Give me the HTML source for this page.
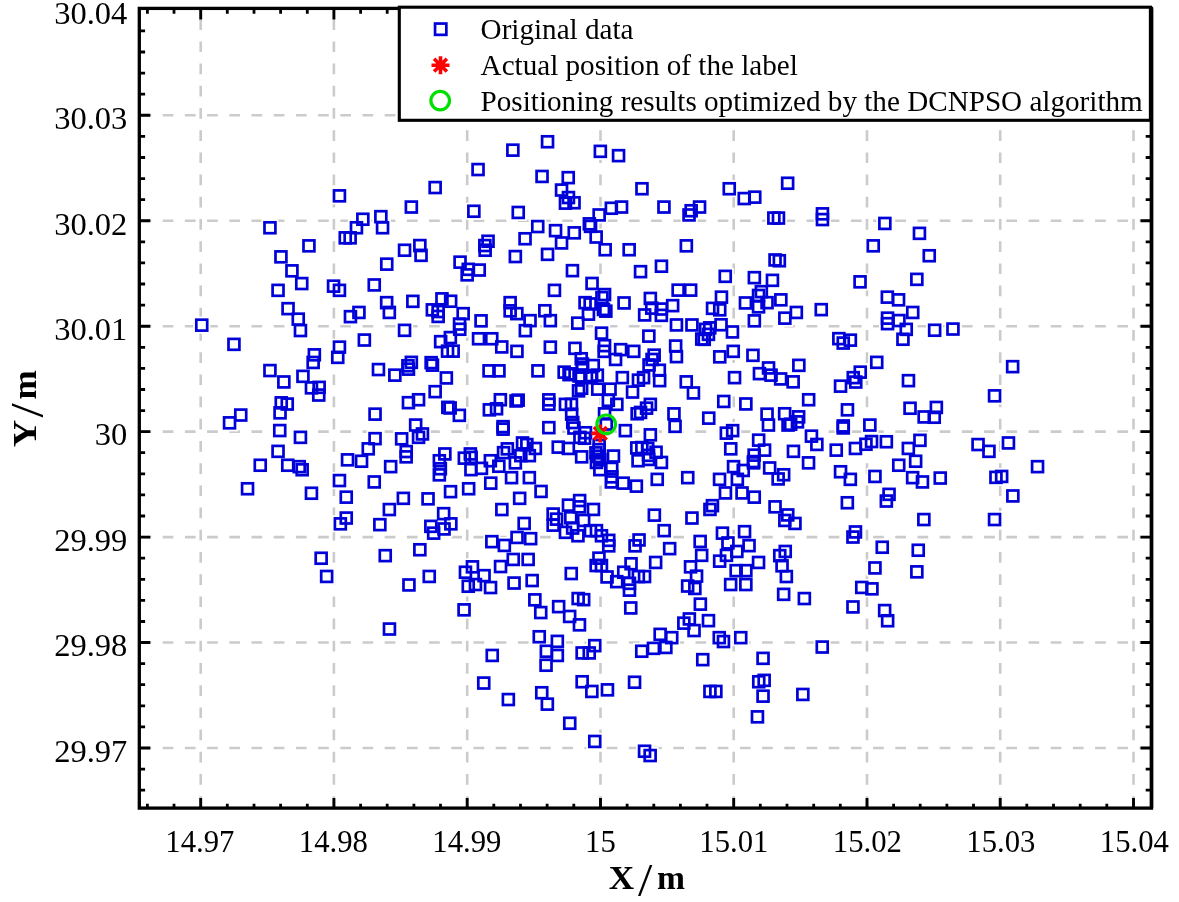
<!DOCTYPE html>
<html><head><meta charset="utf-8"><title>Positioning results</title>
<style>html,body{margin:0;padding:0;background:#fff}svg{display:block}</style></head>
<body>
<svg width="1179" height="902" viewBox="0 0 1179 902">
<rect width="100%" height="100%" fill="#fff"/>
<g stroke="#cbcbcb" stroke-width="2.6" stroke-dasharray="10.7 11.5" fill="none">
<path d="M200.7 19.2V808.1"/>
<path d="M333.9 19.2V808.1"/>
<path d="M467.2 19.2V808.1"/>
<path d="M600.5 19.2V808.1"/>
<path d="M733.7 19.2V808.1"/>
<path d="M867.0 19.2V808.1"/>
<path d="M1000.2 19.2V808.1"/>
<path d="M1133.5 19.2V808.1"/>
<path d="M140.5 748.0H1151.5"/>
<path d="M140.5 642.5H1151.5"/>
<path d="M140.5 537.1H1151.5"/>
<path d="M140.5 431.6H1151.5"/>
<path d="M140.5 326.2H1151.5"/>
<path d="M140.5 220.8H1151.5"/>
<path d="M140.5 115.3H1151.5"/>
</g>
<g fill="#fff" stroke="none">
<rect x="331.0" y="187.3" width="17.0" height="17.0"/>
<rect x="261.4" y="219.2" width="17.0" height="17.0"/>
<rect x="300.4" y="237.4" width="17.0" height="17.0"/>
<rect x="272.4" y="248.4" width="17.0" height="17.0"/>
<rect x="354.4" y="210.7" width="17.0" height="17.0"/>
<rect x="347.9" y="219.2" width="17.0" height="17.0"/>
<rect x="336.7" y="229.4" width="17.0" height="17.0"/>
<rect x="341.6" y="229.4" width="17.0" height="17.0"/>
<rect x="539.1" y="133.2" width="17.0" height="17.0"/>
<rect x="504.3" y="141.7" width="17.0" height="17.0"/>
<rect x="469.5" y="161.0" width="17.0" height="17.0"/>
<rect x="533.5" y="168.0" width="17.0" height="17.0"/>
<rect x="559.8" y="169.2" width="17.0" height="17.0"/>
<rect x="426.6" y="179.0" width="17.0" height="17.0"/>
<rect x="553.0" y="181.6" width="17.0" height="17.0"/>
<rect x="560.0" y="189.0" width="17.0" height="17.0"/>
<rect x="556.9" y="194.6" width="17.0" height="17.0"/>
<rect x="565.6" y="194.3" width="17.0" height="17.0"/>
<rect x="402.9" y="198.5" width="17.0" height="17.0"/>
<rect x="465.3" y="202.8" width="17.0" height="17.0"/>
<rect x="509.8" y="204.0" width="17.0" height="17.0"/>
<rect x="372.3" y="208.2" width="17.0" height="17.0"/>
<rect x="374.0" y="219.2" width="17.0" height="17.0"/>
<rect x="529.3" y="218.0" width="17.0" height="17.0"/>
<rect x="547.1" y="222.1" width="17.0" height="17.0"/>
<rect x="565.7" y="224.3" width="17.0" height="17.0"/>
<rect x="516.5" y="230.2" width="17.0" height="17.0"/>
<rect x="553.0" y="234.5" width="17.0" height="17.0"/>
<rect x="479.6" y="232.8" width="17.0" height="17.0"/>
<rect x="476.3" y="237.0" width="17.0" height="17.0"/>
<rect x="476.7" y="241.8" width="17.0" height="17.0"/>
<rect x="411.4" y="237.0" width="17.0" height="17.0"/>
<rect x="396.1" y="241.8" width="17.0" height="17.0"/>
<rect x="412.6" y="246.9" width="17.0" height="17.0"/>
<rect x="539.1" y="245.9" width="17.0" height="17.0"/>
<rect x="506.9" y="248.1" width="17.0" height="17.0"/>
<rect x="378.3" y="255.7" width="17.0" height="17.0"/>
<rect x="451.6" y="253.7" width="17.0" height="17.0"/>
<rect x="591.9" y="142.9" width="17.0" height="17.0"/>
<rect x="610.0" y="147.1" width="17.0" height="17.0"/>
<rect x="633.4" y="180.2" width="17.0" height="17.0"/>
<rect x="720.8" y="180.2" width="17.0" height="17.0"/>
<rect x="735.7" y="190.0" width="17.0" height="17.0"/>
<rect x="746.2" y="188.7" width="17.0" height="17.0"/>
<rect x="602.9" y="199.7" width="17.0" height="17.0"/>
<rect x="613.1" y="198.5" width="17.0" height="17.0"/>
<rect x="655.5" y="198.5" width="17.0" height="17.0"/>
<rect x="691.1" y="198.5" width="17.0" height="17.0"/>
<rect x="682.6" y="202.3" width="17.0" height="17.0"/>
<rect x="680.6" y="206.5" width="17.0" height="17.0"/>
<rect x="590.7" y="206.5" width="17.0" height="17.0"/>
<rect x="580.8" y="215.3" width="17.0" height="17.0"/>
<rect x="582.0" y="217.9" width="17.0" height="17.0"/>
<rect x="587.6" y="228.5" width="17.0" height="17.0"/>
<rect x="596.6" y="241.3" width="17.0" height="17.0"/>
<rect x="620.7" y="241.3" width="17.0" height="17.0"/>
<rect x="677.9" y="237.4" width="17.0" height="17.0"/>
<rect x="765.4" y="209.5" width="17.0" height="17.0"/>
<rect x="770.0" y="209.5" width="17.0" height="17.0"/>
<rect x="766.6" y="251.4" width="17.0" height="17.0"/>
<rect x="770.8" y="252.3" width="17.0" height="17.0"/>
<rect x="652.9" y="257.7" width="17.0" height="17.0"/>
<rect x="779.1" y="174.8" width="17.0" height="17.0"/>
<rect x="813.9" y="205.3" width="17.0" height="17.0"/>
<rect x="813.9" y="211.1" width="17.0" height="17.0"/>
<rect x="876.3" y="215.0" width="17.0" height="17.0"/>
<rect x="910.9" y="224.8" width="17.0" height="17.0"/>
<rect x="864.8" y="237.4" width="17.0" height="17.0"/>
<rect x="920.8" y="247.2" width="17.0" height="17.0"/>
<rect x="283.5" y="262.3" width="17.0" height="17.0"/>
<rect x="293.3" y="275.1" width="17.0" height="17.0"/>
<rect x="269.5" y="281.9" width="17.0" height="17.0"/>
<rect x="325.0" y="277.6" width="17.0" height="17.0"/>
<rect x="331.0" y="281.9" width="17.0" height="17.0"/>
<rect x="365.7" y="276.4" width="17.0" height="17.0"/>
<rect x="279.6" y="300.2" width="17.0" height="17.0"/>
<rect x="289.7" y="310.7" width="17.0" height="17.0"/>
<rect x="291.9" y="322.1" width="17.0" height="17.0"/>
<rect x="350.5" y="303.9" width="17.0" height="17.0"/>
<rect x="342.0" y="308.1" width="17.0" height="17.0"/>
<rect x="193.2" y="316.6" width="17.0" height="17.0"/>
<rect x="225.4" y="335.8" width="17.0" height="17.0"/>
<rect x="355.9" y="331.6" width="17.0" height="17.0"/>
<rect x="331.0" y="338.7" width="17.0" height="17.0"/>
<rect x="329.3" y="348.9" width="17.0" height="17.0"/>
<rect x="305.9" y="346.3" width="17.0" height="17.0"/>
<rect x="304.7" y="354.0" width="17.0" height="17.0"/>
<rect x="261.4" y="362.1" width="17.0" height="17.0"/>
<rect x="275.3" y="373.5" width="17.0" height="17.0"/>
<rect x="294.5" y="367.9" width="17.0" height="17.0"/>
<rect x="303.0" y="379.4" width="17.0" height="17.0"/>
<rect x="310.6" y="378.9" width="17.0" height="17.0"/>
<rect x="310.3" y="386.5" width="17.0" height="17.0"/>
<rect x="272.8" y="394.3" width="17.0" height="17.0"/>
<rect x="278.7" y="395.5" width="17.0" height="17.0"/>
<rect x="271.6" y="404.3" width="17.0" height="17.0"/>
<rect x="232.2" y="406.5" width="17.0" height="17.0"/>
<rect x="366.6" y="405.7" width="17.0" height="17.0"/>
<rect x="370.0" y="361.1" width="17.0" height="17.0"/>
<rect x="458.6" y="266.3" width="17.0" height="17.0"/>
<rect x="459.7" y="260.8" width="17.0" height="17.0"/>
<rect x="470.7" y="261.6" width="17.0" height="17.0"/>
<rect x="378.1" y="294.2" width="17.0" height="17.0"/>
<rect x="380.8" y="303.9" width="17.0" height="17.0"/>
<rect x="404.3" y="292.9" width="17.0" height="17.0"/>
<rect x="433.4" y="290.3" width="17.0" height="17.0"/>
<rect x="442.2" y="292.7" width="17.0" height="17.0"/>
<rect x="423.8" y="301.4" width="17.0" height="17.0"/>
<rect x="429.6" y="303.1" width="17.0" height="17.0"/>
<rect x="429.6" y="308.0" width="17.0" height="17.0"/>
<rect x="454.6" y="305.2" width="17.0" height="17.0"/>
<rect x="451.1" y="315.5" width="17.0" height="17.0"/>
<rect x="451.2" y="320.7" width="17.0" height="17.0"/>
<rect x="396.1" y="321.9" width="17.0" height="17.0"/>
<rect x="441.9" y="329.1" width="17.0" height="17.0"/>
<rect x="432.1" y="333.2" width="17.0" height="17.0"/>
<rect x="470.1" y="330.2" width="17.0" height="17.0"/>
<rect x="564.0" y="262.2" width="17.0" height="17.0"/>
<rect x="546.0" y="281.9" width="17.0" height="17.0"/>
<rect x="501.6" y="294.2" width="17.0" height="17.0"/>
<rect x="501.6" y="302.4" width="17.0" height="17.0"/>
<rect x="508.4" y="305.2" width="17.0" height="17.0"/>
<rect x="521.5" y="312.1" width="17.0" height="17.0"/>
<rect x="516.9" y="322.1" width="17.0" height="17.0"/>
<rect x="536.4" y="302.2" width="17.0" height="17.0"/>
<rect x="541.9" y="312.1" width="17.0" height="17.0"/>
<rect x="472.5" y="312.4" width="17.0" height="17.0"/>
<rect x="569.2" y="314.7" width="17.0" height="17.0"/>
<rect x="483.2" y="330.2" width="17.0" height="17.0"/>
<rect x="439.1" y="342.6" width="17.0" height="17.0"/>
<rect x="444.6" y="342.6" width="17.0" height="17.0"/>
<rect x="386.3" y="366.6" width="17.0" height="17.0"/>
<rect x="402.9" y="353.9" width="17.0" height="17.0"/>
<rect x="399.5" y="357.3" width="17.0" height="17.0"/>
<rect x="399.9" y="360.7" width="17.0" height="17.0"/>
<rect x="422.6" y="354.1" width="17.0" height="17.0"/>
<rect x="423.9" y="356.6" width="17.0" height="17.0"/>
<rect x="437.8" y="369.4" width="17.0" height="17.0"/>
<rect x="426.6" y="383.1" width="17.0" height="17.0"/>
<rect x="410.1" y="391.2" width="17.0" height="17.0"/>
<rect x="399.9" y="394.2" width="17.0" height="17.0"/>
<rect x="439.4" y="398.8" width="17.0" height="17.0"/>
<rect x="441.6" y="399.4" width="17.0" height="17.0"/>
<rect x="450.8" y="406.9" width="17.0" height="17.0"/>
<rect x="493.3" y="338.5" width="17.0" height="17.0"/>
<rect x="508.5" y="342.9" width="17.0" height="17.0"/>
<rect x="541.9" y="338.6" width="17.0" height="17.0"/>
<rect x="566.5" y="339.9" width="17.0" height="17.0"/>
<rect x="480.6" y="362.4" width="17.0" height="17.0"/>
<rect x="490.4" y="362.4" width="17.0" height="17.0"/>
<rect x="529.4" y="362.4" width="17.0" height="17.0"/>
<rect x="555.6" y="363.6" width="17.0" height="17.0"/>
<rect x="560.6" y="366.2" width="17.0" height="17.0"/>
<rect x="570.1" y="382.3" width="17.0" height="17.0"/>
<rect x="491.9" y="391.2" width="17.0" height="17.0"/>
<rect x="507.5" y="392.5" width="17.0" height="17.0"/>
<rect x="509.7" y="391.6" width="17.0" height="17.0"/>
<rect x="480.8" y="401.4" width="17.0" height="17.0"/>
<rect x="488.0" y="400.3" width="17.0" height="17.0"/>
<rect x="540.4" y="391.4" width="17.0" height="17.0"/>
<rect x="540.4" y="395.7" width="17.0" height="17.0"/>
<rect x="556.9" y="395.9" width="17.0" height="17.0"/>
<rect x="562.9" y="395.9" width="17.0" height="17.0"/>
<rect x="632.1" y="263.2" width="17.0" height="17.0"/>
<rect x="583.6" y="274.9" width="17.0" height="17.0"/>
<rect x="596.0" y="286.1" width="17.0" height="17.0"/>
<rect x="593.5" y="289.1" width="17.0" height="17.0"/>
<rect x="576.5" y="294.2" width="17.0" height="17.0"/>
<rect x="581.6" y="295.4" width="17.0" height="17.0"/>
<rect x="579.9" y="305.6" width="17.0" height="17.0"/>
<rect x="594.9" y="300.9" width="17.0" height="17.0"/>
<rect x="597.3" y="302.6" width="17.0" height="17.0"/>
<rect x="615.5" y="294.4" width="17.0" height="17.0"/>
<rect x="593.1" y="324.7" width="17.0" height="17.0"/>
<rect x="641.8" y="289.9" width="17.0" height="17.0"/>
<rect x="636.1" y="306.5" width="17.0" height="17.0"/>
<rect x="643.3" y="299.7" width="17.0" height="17.0"/>
<rect x="640.4" y="327.7" width="17.0" height="17.0"/>
<rect x="716.7" y="267.9" width="17.0" height="17.0"/>
<rect x="669.7" y="281.6" width="17.0" height="17.0"/>
<rect x="682.1" y="281.6" width="17.0" height="17.0"/>
<rect x="652.9" y="300.5" width="17.0" height="17.0"/>
<rect x="652.9" y="306.9" width="17.0" height="17.0"/>
<rect x="664.2" y="297.1" width="17.0" height="17.0"/>
<rect x="712.9" y="288.6" width="17.0" height="17.0"/>
<rect x="704.0" y="299.8" width="17.0" height="17.0"/>
<rect x="711.2" y="301.4" width="17.0" height="17.0"/>
<rect x="668.0" y="316.5" width="17.0" height="17.0"/>
<rect x="683.4" y="316.5" width="17.0" height="17.0"/>
<rect x="712.5" y="316.2" width="17.0" height="17.0"/>
<rect x="724.0" y="323.4" width="17.0" height="17.0"/>
<rect x="701.3" y="319.3" width="17.0" height="17.0"/>
<rect x="697.1" y="320.8" width="17.0" height="17.0"/>
<rect x="700.0" y="325.9" width="17.0" height="17.0"/>
<rect x="693.3" y="330.5" width="17.0" height="17.0"/>
<rect x="695.8" y="330.8" width="17.0" height="17.0"/>
<rect x="745.9" y="269.1" width="17.0" height="17.0"/>
<rect x="763.9" y="271.8" width="17.0" height="17.0"/>
<rect x="736.9" y="294.4" width="17.0" height="17.0"/>
<rect x="752.8" y="283.1" width="17.0" height="17.0"/>
<rect x="750.1" y="286.9" width="17.0" height="17.0"/>
<rect x="750.1" y="298.4" width="17.0" height="17.0"/>
<rect x="758.6" y="294.2" width="17.0" height="17.0"/>
<rect x="772.4" y="291.4" width="17.0" height="17.0"/>
<rect x="745.9" y="312.4" width="17.0" height="17.0"/>
<rect x="776.4" y="309.7" width="17.0" height="17.0"/>
<rect x="787.8" y="303.9" width="17.0" height="17.0"/>
<rect x="851.6" y="273.4" width="17.0" height="17.0"/>
<rect x="812.7" y="301.2" width="17.0" height="17.0"/>
<rect x="878.9" y="288.6" width="17.0" height="17.0"/>
<rect x="890.1" y="291.4" width="17.0" height="17.0"/>
<rect x="879.0" y="309.7" width="17.0" height="17.0"/>
<rect x="879.0" y="315.2" width="17.0" height="17.0"/>
<rect x="908.3" y="270.8" width="17.0" height="17.0"/>
<rect x="904.2" y="303.9" width="17.0" height="17.0"/>
<rect x="890.5" y="312.1" width="17.0" height="17.0"/>
<rect x="897.8" y="320.9" width="17.0" height="17.0"/>
<rect x="894.4" y="330.7" width="17.0" height="17.0"/>
<rect x="926.1" y="321.7" width="17.0" height="17.0"/>
<rect x="944.4" y="320.5" width="17.0" height="17.0"/>
<rect x="900.0" y="372.1" width="17.0" height="17.0"/>
<rect x="1004.2" y="358.2" width="17.0" height="17.0"/>
<rect x="986.0" y="387.4" width="17.0" height="17.0"/>
<rect x="901.5" y="399.8" width="17.0" height="17.0"/>
<rect x="927.8" y="398.9" width="17.0" height="17.0"/>
<rect x="925.8" y="408.7" width="17.0" height="17.0"/>
<rect x="915.6" y="408.4" width="17.0" height="17.0"/>
<rect x="572.7" y="350.2" width="17.0" height="17.0"/>
<rect x="574.0" y="355.6" width="17.0" height="17.0"/>
<rect x="584.7" y="357.0" width="17.0" height="17.0"/>
<rect x="570.6" y="367.5" width="17.0" height="17.0"/>
<rect x="588.8" y="366.6" width="17.0" height="17.0"/>
<rect x="582.5" y="369.2" width="17.0" height="17.0"/>
<rect x="573.1" y="379.8" width="17.0" height="17.0"/>
<rect x="589.2" y="380.6" width="17.0" height="17.0"/>
<rect x="601.5" y="380.6" width="17.0" height="17.0"/>
<rect x="599.8" y="391.8" width="17.0" height="17.0"/>
<rect x="608.3" y="395.9" width="17.0" height="17.0"/>
<rect x="596.0" y="405.4" width="17.0" height="17.0"/>
<rect x="596.0" y="337.2" width="17.0" height="17.0"/>
<rect x="595.6" y="342.9" width="17.0" height="17.0"/>
<rect x="607.1" y="350.9" width="17.0" height="17.0"/>
<rect x="612.1" y="341.2" width="17.0" height="17.0"/>
<rect x="625.3" y="342.9" width="17.0" height="17.0"/>
<rect x="613.8" y="369.2" width="17.0" height="17.0"/>
<rect x="624.0" y="383.6" width="17.0" height="17.0"/>
<rect x="630.0" y="371.7" width="17.0" height="17.0"/>
<rect x="635.0" y="369.2" width="17.0" height="17.0"/>
<rect x="645.6" y="346.7" width="17.0" height="17.0"/>
<rect x="643.5" y="350.9" width="17.0" height="17.0"/>
<rect x="640.6" y="356.4" width="17.0" height="17.0"/>
<rect x="651.2" y="372.1" width="17.0" height="17.0"/>
<rect x="641.8" y="395.9" width="17.0" height="17.0"/>
<rect x="638.0" y="399.7" width="17.0" height="17.0"/>
<rect x="628.7" y="405.2" width="17.0" height="17.0"/>
<rect x="632.1" y="403.9" width="17.0" height="17.0"/>
<rect x="650.8" y="361.8" width="17.0" height="17.0"/>
<rect x="667.1" y="337.5" width="17.0" height="17.0"/>
<rect x="668.0" y="348.1" width="17.0" height="17.0"/>
<rect x="711.2" y="348.4" width="17.0" height="17.0"/>
<rect x="724.8" y="342.9" width="17.0" height="17.0"/>
<rect x="677.7" y="373.4" width="17.0" height="17.0"/>
<rect x="684.9" y="384.4" width="17.0" height="17.0"/>
<rect x="726.1" y="369.2" width="17.0" height="17.0"/>
<rect x="715.3" y="392.9" width="17.0" height="17.0"/>
<rect x="665.4" y="405.4" width="17.0" height="17.0"/>
<rect x="700.2" y="409.6" width="17.0" height="17.0"/>
<rect x="744.4" y="346.8" width="17.0" height="17.0"/>
<rect x="737.4" y="395.4" width="17.0" height="17.0"/>
<rect x="790.4" y="356.9" width="17.0" height="17.0"/>
<rect x="760.0" y="359.4" width="17.0" height="17.0"/>
<rect x="750.9" y="365.2" width="17.0" height="17.0"/>
<rect x="762.6" y="366.6" width="17.0" height="17.0"/>
<rect x="772.1" y="370.4" width="17.0" height="17.0"/>
<rect x="784.6" y="373.4" width="17.0" height="17.0"/>
<rect x="800.1" y="391.2" width="17.0" height="17.0"/>
<rect x="758.6" y="405.6" width="17.0" height="17.0"/>
<rect x="776.1" y="405.2" width="17.0" height="17.0"/>
<rect x="868.3" y="353.9" width="17.0" height="17.0"/>
<rect x="851.7" y="363.6" width="17.0" height="17.0"/>
<rect x="844.8" y="369.2" width="17.0" height="17.0"/>
<rect x="847.2" y="373.6" width="17.0" height="17.0"/>
<rect x="832.0" y="377.6" width="17.0" height="17.0"/>
<rect x="839.0" y="401.4" width="17.0" height="17.0"/>
<rect x="830.4" y="330.2" width="17.0" height="17.0"/>
<rect x="834.8" y="334.5" width="17.0" height="17.0"/>
<rect x="841.9" y="331.6" width="17.0" height="17.0"/>
<rect x="221.0" y="414.4" width="17.0" height="17.0"/>
<rect x="271.2" y="422.0" width="17.0" height="17.0"/>
<rect x="291.9" y="428.8" width="17.0" height="17.0"/>
<rect x="269.5" y="442.9" width="17.0" height="17.0"/>
<rect x="251.7" y="456.8" width="17.0" height="17.0"/>
<rect x="279.2" y="456.8" width="17.0" height="17.0"/>
<rect x="290.8" y="458.1" width="17.0" height="17.0"/>
<rect x="293.6" y="461.2" width="17.0" height="17.0"/>
<rect x="239.0" y="480.2" width="17.0" height="17.0"/>
<rect x="303.0" y="484.8" width="17.0" height="17.0"/>
<rect x="339.1" y="451.4" width="17.0" height="17.0"/>
<rect x="353.0" y="452.7" width="17.0" height="17.0"/>
<rect x="359.8" y="440.3" width="17.0" height="17.0"/>
<rect x="366.6" y="430.2" width="17.0" height="17.0"/>
<rect x="331.0" y="472.1" width="17.0" height="17.0"/>
<rect x="365.7" y="473.4" width="17.0" height="17.0"/>
<rect x="337.7" y="488.7" width="17.0" height="17.0"/>
<rect x="337.7" y="509.5" width="17.0" height="17.0"/>
<rect x="331.8" y="515.3" width="17.0" height="17.0"/>
<rect x="371.3" y="516.2" width="17.0" height="17.0"/>
<rect x="312.6" y="549.8" width="17.0" height="17.0"/>
<rect x="407.1" y="416.6" width="17.0" height="17.0"/>
<rect x="393.1" y="430.3" width="17.0" height="17.0"/>
<rect x="413.9" y="425.5" width="17.0" height="17.0"/>
<rect x="410.1" y="428.9" width="17.0" height="17.0"/>
<rect x="397.8" y="443.1" width="17.0" height="17.0"/>
<rect x="397.6" y="448.4" width="17.0" height="17.0"/>
<rect x="382.1" y="458.1" width="17.0" height="17.0"/>
<rect x="436.4" y="445.4" width="17.0" height="17.0"/>
<rect x="430.9" y="452.2" width="17.0" height="17.0"/>
<rect x="431.9" y="460.3" width="17.0" height="17.0"/>
<rect x="430.9" y="466.4" width="17.0" height="17.0"/>
<rect x="455.9" y="449.7" width="17.0" height="17.0"/>
<rect x="461.8" y="445.4" width="17.0" height="17.0"/>
<rect x="462.7" y="448.8" width="17.0" height="17.0"/>
<rect x="462.4" y="461.1" width="17.0" height="17.0"/>
<rect x="442.1" y="483.2" width="17.0" height="17.0"/>
<rect x="460.1" y="480.2" width="17.0" height="17.0"/>
<rect x="473.0" y="459.8" width="17.0" height="17.0"/>
<rect x="494.6" y="418.1" width="17.0" height="17.0"/>
<rect x="494.6" y="420.7" width="17.0" height="17.0"/>
<rect x="540.4" y="419.1" width="17.0" height="17.0"/>
<rect x="549.7" y="438.6" width="17.0" height="17.0"/>
<rect x="559.9" y="439.9" width="17.0" height="17.0"/>
<rect x="498.8" y="440.3" width="17.0" height="17.0"/>
<rect x="495.0" y="444.2" width="17.0" height="17.0"/>
<rect x="514.1" y="434.4" width="17.0" height="17.0"/>
<rect x="518.3" y="436.1" width="17.0" height="17.0"/>
<rect x="526.8" y="439.9" width="17.0" height="17.0"/>
<rect x="520.9" y="447.1" width="17.0" height="17.0"/>
<rect x="512.4" y="447.1" width="17.0" height="17.0"/>
<rect x="506.9" y="454.3" width="17.0" height="17.0"/>
<rect x="481.9" y="452.2" width="17.0" height="17.0"/>
<rect x="490.3" y="457.7" width="17.0" height="17.0"/>
<rect x="503.1" y="469.2" width="17.0" height="17.0"/>
<rect x="520.9" y="469.2" width="17.0" height="17.0"/>
<rect x="482.3" y="474.7" width="17.0" height="17.0"/>
<rect x="532.6" y="482.9" width="17.0" height="17.0"/>
<rect x="564.2" y="414.0" width="17.0" height="17.0"/>
<rect x="565.5" y="419.6" width="17.0" height="17.0"/>
<rect x="576.9" y="424.2" width="17.0" height="17.0"/>
<rect x="576.1" y="429.7" width="17.0" height="17.0"/>
<rect x="571.4" y="428.9" width="17.0" height="17.0"/>
<rect x="573.1" y="448.4" width="17.0" height="17.0"/>
<rect x="590.7" y="436.9" width="17.0" height="17.0"/>
<rect x="590.7" y="441.2" width="17.0" height="17.0"/>
<rect x="588.8" y="448.0" width="17.0" height="17.0"/>
<rect x="591.4" y="451.4" width="17.0" height="17.0"/>
<rect x="588.0" y="453.9" width="17.0" height="17.0"/>
<rect x="591.4" y="461.1" width="17.0" height="17.0"/>
<rect x="604.9" y="447.5" width="17.0" height="17.0"/>
<rect x="603.2" y="459.8" width="17.0" height="17.0"/>
<rect x="603.2" y="468.3" width="17.0" height="17.0"/>
<rect x="602.8" y="473.4" width="17.0" height="17.0"/>
<rect x="614.7" y="474.7" width="17.0" height="17.0"/>
<rect x="627.8" y="477.7" width="17.0" height="17.0"/>
<rect x="648.8" y="470.9" width="17.0" height="17.0"/>
<rect x="616.8" y="422.1" width="17.0" height="17.0"/>
<rect x="641.8" y="426.3" width="17.0" height="17.0"/>
<rect x="628.3" y="439.5" width="17.0" height="17.0"/>
<rect x="633.3" y="439.1" width="17.0" height="17.0"/>
<rect x="639.3" y="439.9" width="17.0" height="17.0"/>
<rect x="629.5" y="452.2" width="17.0" height="17.0"/>
<rect x="640.1" y="450.9" width="17.0" height="17.0"/>
<rect x="647.5" y="443.7" width="17.0" height="17.0"/>
<rect x="652.9" y="453.9" width="17.0" height="17.0"/>
<rect x="597.7" y="415.6" width="17.0" height="17.0"/>
<rect x="666.5" y="417.9" width="17.0" height="17.0"/>
<rect x="679.2" y="469.2" width="17.0" height="17.0"/>
<rect x="717.8" y="424.6" width="17.0" height="17.0"/>
<rect x="724.2" y="422.1" width="17.0" height="17.0"/>
<rect x="722.2" y="440.3" width="17.0" height="17.0"/>
<rect x="725.0" y="458.1" width="17.0" height="17.0"/>
<rect x="734.8" y="462.0" width="17.0" height="17.0"/>
<rect x="711.1" y="470.9" width="17.0" height="17.0"/>
<rect x="728.9" y="470.9" width="17.0" height="17.0"/>
<rect x="717.0" y="484.4" width="17.0" height="17.0"/>
<rect x="733.5" y="484.4" width="17.0" height="17.0"/>
<rect x="759.9" y="416.6" width="17.0" height="17.0"/>
<rect x="802.9" y="427.6" width="17.0" height="17.0"/>
<rect x="808.3" y="435.9" width="17.0" height="17.0"/>
<rect x="750.2" y="431.6" width="17.0" height="17.0"/>
<rect x="756.1" y="441.6" width="17.0" height="17.0"/>
<rect x="784.9" y="442.9" width="17.0" height="17.0"/>
<rect x="800.0" y="454.3" width="17.0" height="17.0"/>
<rect x="827.8" y="441.6" width="17.0" height="17.0"/>
<rect x="745.7" y="446.7" width="17.0" height="17.0"/>
<rect x="745.1" y="454.3" width="17.0" height="17.0"/>
<rect x="745.1" y="453.1" width="17.0" height="17.0"/>
<rect x="761.2" y="459.4" width="17.0" height="17.0"/>
<rect x="775.2" y="466.2" width="17.0" height="17.0"/>
<rect x="769.7" y="470.4" width="17.0" height="17.0"/>
<rect x="790.2" y="408.3" width="17.0" height="17.0"/>
<rect x="789.0" y="413.3" width="17.0" height="17.0"/>
<rect x="779.6" y="416.5" width="17.0" height="17.0"/>
<rect x="782.2" y="415.7" width="17.0" height="17.0"/>
<rect x="834.7" y="417.4" width="17.0" height="17.0"/>
<rect x="834.7" y="419.5" width="17.0" height="17.0"/>
<rect x="861.4" y="416.6" width="17.0" height="17.0"/>
<rect x="846.9" y="440.0" width="17.0" height="17.0"/>
<rect x="857.5" y="435.8" width="17.0" height="17.0"/>
<rect x="863.1" y="433.0" width="17.0" height="17.0"/>
<rect x="877.8" y="433.2" width="17.0" height="17.0"/>
<rect x="911.4" y="431.9" width="17.0" height="17.0"/>
<rect x="899.9" y="440.0" width="17.0" height="17.0"/>
<rect x="907.2" y="452.7" width="17.0" height="17.0"/>
<rect x="890.2" y="456.8" width="17.0" height="17.0"/>
<rect x="832.0" y="463.2" width="17.0" height="17.0"/>
<rect x="841.9" y="470.9" width="17.0" height="17.0"/>
<rect x="866.5" y="468.0" width="17.0" height="17.0"/>
<rect x="904.1" y="469.2" width="17.0" height="17.0"/>
<rect x="914.0" y="473.4" width="17.0" height="17.0"/>
<rect x="931.8" y="469.5" width="17.0" height="17.0"/>
<rect x="969.6" y="436.1" width="17.0" height="17.0"/>
<rect x="980.4" y="442.9" width="17.0" height="17.0"/>
<rect x="1000.0" y="434.4" width="17.0" height="17.0"/>
<rect x="987.4" y="468.8" width="17.0" height="17.0"/>
<rect x="993.2" y="468.0" width="17.0" height="17.0"/>
<rect x="1004.4" y="487.5" width="17.0" height="17.0"/>
<rect x="880.5" y="485.8" width="17.0" height="17.0"/>
<rect x="877.8" y="492.6" width="17.0" height="17.0"/>
<rect x="838.8" y="494.3" width="17.0" height="17.0"/>
<rect x="915.3" y="511.1" width="17.0" height="17.0"/>
<rect x="986.0" y="511.1" width="17.0" height="17.0"/>
<rect x="846.9" y="523.5" width="17.0" height="17.0"/>
<rect x="844.4" y="528.5" width="17.0" height="17.0"/>
<rect x="873.7" y="538.7" width="17.0" height="17.0"/>
<rect x="909.7" y="541.8" width="17.0" height="17.0"/>
<rect x="866.5" y="559.4" width="17.0" height="17.0"/>
<rect x="1029.0" y="458.1" width="17.0" height="17.0"/>
<rect x="394.8" y="489.9" width="17.0" height="17.0"/>
<rect x="419.6" y="490.3" width="17.0" height="17.0"/>
<rect x="380.8" y="501.1" width="17.0" height="17.0"/>
<rect x="435.1" y="505.2" width="17.0" height="17.0"/>
<rect x="442.3" y="515.3" width="17.0" height="17.0"/>
<rect x="435.5" y="520.4" width="17.0" height="17.0"/>
<rect x="422.4" y="517.9" width="17.0" height="17.0"/>
<rect x="425.1" y="524.7" width="17.0" height="17.0"/>
<rect x="411.4" y="541.2" width="17.0" height="17.0"/>
<rect x="376.8" y="547.1" width="17.0" height="17.0"/>
<rect x="464.0" y="558.3" width="17.0" height="17.0"/>
<rect x="511.1" y="489.9" width="17.0" height="17.0"/>
<rect x="493.3" y="501.1" width="17.0" height="17.0"/>
<rect x="515.6" y="514.9" width="17.0" height="17.0"/>
<rect x="508.6" y="528.9" width="17.0" height="17.0"/>
<rect x="522.1" y="530.2" width="17.0" height="17.0"/>
<rect x="483.4" y="533.1" width="17.0" height="17.0"/>
<rect x="495.9" y="537.0" width="17.0" height="17.0"/>
<rect x="504.8" y="551.0" width="17.0" height="17.0"/>
<rect x="519.6" y="551.0" width="17.0" height="17.0"/>
<rect x="492.0" y="558.0" width="17.0" height="17.0"/>
<rect x="544.6" y="505.6" width="17.0" height="17.0"/>
<rect x="544.6" y="516.6" width="17.0" height="17.0"/>
<rect x="548.0" y="510.7" width="17.0" height="17.0"/>
<rect x="559.9" y="496.7" width="17.0" height="17.0"/>
<rect x="571.2" y="492.0" width="17.0" height="17.0"/>
<rect x="570.9" y="498.4" width="17.0" height="17.0"/>
<rect x="584.9" y="500.9" width="17.0" height="17.0"/>
<rect x="575.2" y="511.9" width="17.0" height="17.0"/>
<rect x="562.2" y="509.2" width="17.0" height="17.0"/>
<rect x="564.2" y="519.6" width="17.0" height="17.0"/>
<rect x="556.9" y="523.8" width="17.0" height="17.0"/>
<rect x="569.4" y="527.2" width="17.0" height="17.0"/>
<rect x="582.0" y="522.3" width="17.0" height="17.0"/>
<rect x="587.9" y="522.1" width="17.0" height="17.0"/>
<rect x="593.0" y="527.2" width="17.0" height="17.0"/>
<rect x="600.2" y="531.9" width="17.0" height="17.0"/>
<rect x="600.2" y="537.4" width="17.0" height="17.0"/>
<rect x="590.4" y="549.7" width="17.0" height="17.0"/>
<rect x="630.6" y="531.5" width="17.0" height="17.0"/>
<rect x="626.5" y="537.4" width="17.0" height="17.0"/>
<rect x="645.9" y="506.6" width="17.0" height="17.0"/>
<rect x="655.6" y="522.1" width="17.0" height="17.0"/>
<rect x="661.1" y="540.1" width="17.0" height="17.0"/>
<rect x="683.4" y="509.6" width="17.0" height="17.0"/>
<rect x="704.0" y="497.1" width="17.0" height="17.0"/>
<rect x="701.4" y="500.9" width="17.0" height="17.0"/>
<rect x="691.7" y="533.0" width="17.0" height="17.0"/>
<rect x="693.2" y="546.9" width="17.0" height="17.0"/>
<rect x="711.2" y="552.7" width="17.0" height="17.0"/>
<rect x="622.5" y="555.2" width="17.0" height="17.0"/>
<rect x="647.1" y="553.9" width="17.0" height="17.0"/>
<rect x="682.1" y="558.3" width="17.0" height="17.0"/>
<rect x="714.0" y="524.7" width="17.0" height="17.0"/>
<rect x="745.8" y="488.6" width="17.0" height="17.0"/>
<rect x="766.6" y="498.4" width="17.0" height="17.0"/>
<rect x="779.3" y="506.4" width="17.0" height="17.0"/>
<rect x="776.3" y="511.9" width="17.0" height="17.0"/>
<rect x="786.5" y="514.9" width="17.0" height="17.0"/>
<rect x="736.0" y="523.1" width="17.0" height="17.0"/>
<rect x="740.5" y="537.1" width="17.0" height="17.0"/>
<rect x="719.5" y="534.4" width="17.0" height="17.0"/>
<rect x="728.4" y="542.9" width="17.0" height="17.0"/>
<rect x="718.0" y="546.9" width="17.0" height="17.0"/>
<rect x="750.0" y="553.9" width="17.0" height="17.0"/>
<rect x="776.7" y="542.9" width="17.0" height="17.0"/>
<rect x="771.2" y="547.1" width="17.0" height="17.0"/>
<rect x="773.5" y="557.3" width="17.0" height="17.0"/>
<rect x="318.1" y="567.9" width="17.0" height="17.0"/>
<rect x="400.4" y="576.4" width="17.0" height="17.0"/>
<rect x="420.8" y="567.9" width="17.0" height="17.0"/>
<rect x="455.6" y="601.4" width="17.0" height="17.0"/>
<rect x="380.9" y="620.5" width="17.0" height="17.0"/>
<rect x="456.9" y="563.8" width="17.0" height="17.0"/>
<rect x="475.6" y="567.2" width="17.0" height="17.0"/>
<rect x="459.7" y="577.8" width="17.0" height="17.0"/>
<rect x="466.9" y="576.1" width="17.0" height="17.0"/>
<rect x="482.0" y="579.1" width="17.0" height="17.0"/>
<rect x="505.5" y="574.6" width="17.0" height="17.0"/>
<rect x="523.6" y="572.0" width="17.0" height="17.0"/>
<rect x="526.3" y="591.4" width="17.0" height="17.0"/>
<rect x="532.3" y="604.1" width="17.0" height="17.0"/>
<rect x="530.7" y="628.3" width="17.0" height="17.0"/>
<rect x="562.7" y="565.1" width="17.0" height="17.0"/>
<rect x="587.6" y="557.0" width="17.0" height="17.0"/>
<rect x="593.0" y="557.0" width="17.0" height="17.0"/>
<rect x="598.5" y="568.5" width="17.0" height="17.0"/>
<rect x="608.3" y="573.1" width="17.0" height="17.0"/>
<rect x="615.2" y="563.8" width="17.0" height="17.0"/>
<rect x="629.9" y="568.0" width="17.0" height="17.0"/>
<rect x="621.0" y="574.8" width="17.0" height="17.0"/>
<rect x="621.0" y="581.6" width="17.0" height="17.0"/>
<rect x="622.3" y="599.4" width="17.0" height="17.0"/>
<rect x="569.7" y="590.1" width="17.0" height="17.0"/>
<rect x="575.2" y="591.2" width="17.0" height="17.0"/>
<rect x="550.2" y="598.1" width="17.0" height="17.0"/>
<rect x="561.2" y="607.9" width="17.0" height="17.0"/>
<rect x="570.9" y="616.4" width="17.0" height="17.0"/>
<rect x="636.1" y="568.0" width="17.0" height="17.0"/>
<rect x="688.1" y="567.6" width="17.0" height="17.0"/>
<rect x="679.2" y="577.5" width="17.0" height="17.0"/>
<rect x="686.4" y="579.9" width="17.0" height="17.0"/>
<rect x="691.9" y="595.6" width="17.0" height="17.0"/>
<rect x="700.0" y="612.1" width="17.0" height="17.0"/>
<rect x="680.9" y="610.4" width="17.0" height="17.0"/>
<rect x="675.4" y="614.7" width="17.0" height="17.0"/>
<rect x="685.5" y="622.1" width="17.0" height="17.0"/>
<rect x="651.6" y="625.9" width="17.0" height="17.0"/>
<rect x="722.2" y="576.1" width="17.0" height="17.0"/>
<rect x="737.4" y="576.1" width="17.0" height="17.0"/>
<rect x="727.6" y="562.1" width="17.0" height="17.0"/>
<rect x="737.4" y="562.1" width="17.0" height="17.0"/>
<rect x="777.8" y="568.0" width="17.0" height="17.0"/>
<rect x="775.1" y="585.9" width="17.0" height="17.0"/>
<rect x="795.9" y="590.1" width="17.0" height="17.0"/>
<rect x="908.4" y="563.4" width="17.0" height="17.0"/>
<rect x="853.2" y="579.0" width="17.0" height="17.0"/>
<rect x="863.4" y="580.3" width="17.0" height="17.0"/>
<rect x="844.4" y="598.5" width="17.0" height="17.0"/>
<rect x="876.1" y="602.1" width="17.0" height="17.0"/>
<rect x="879.2" y="612.2" width="17.0" height="17.0"/>
<rect x="813.7" y="638.5" width="17.0" height="17.0"/>
<rect x="548.9" y="632.9" width="17.0" height="17.0"/>
<rect x="537.9" y="642.7" width="17.0" height="17.0"/>
<rect x="548.9" y="646.9" width="17.0" height="17.0"/>
<rect x="537.5" y="656.8" width="17.0" height="17.0"/>
<rect x="483.7" y="646.9" width="17.0" height="17.0"/>
<rect x="475.3" y="674.6" width="17.0" height="17.0"/>
<rect x="499.9" y="691.1" width="17.0" height="17.0"/>
<rect x="533.3" y="684.3" width="17.0" height="17.0"/>
<rect x="538.9" y="695.6" width="17.0" height="17.0"/>
<rect x="561.3" y="714.8" width="17.0" height="17.0"/>
<rect x="586.2" y="733.0" width="17.0" height="17.0"/>
<rect x="573.7" y="644.4" width="17.0" height="17.0"/>
<rect x="580.8" y="644.4" width="17.0" height="17.0"/>
<rect x="586.2" y="637.1" width="17.0" height="17.0"/>
<rect x="573.7" y="673.2" width="17.0" height="17.0"/>
<rect x="583.3" y="682.9" width="17.0" height="17.0"/>
<rect x="598.9" y="681.4" width="17.0" height="17.0"/>
<rect x="626.1" y="673.7" width="17.0" height="17.0"/>
<rect x="633.2" y="642.7" width="17.0" height="17.0"/>
<rect x="644.9" y="639.8" width="17.0" height="17.0"/>
<rect x="657.3" y="639.0" width="17.0" height="17.0"/>
<rect x="663.2" y="629.1" width="17.0" height="17.0"/>
<rect x="694.3" y="651.2" width="17.0" height="17.0"/>
<rect x="710.7" y="629.1" width="17.0" height="17.0"/>
<rect x="715.0" y="633.0" width="17.0" height="17.0"/>
<rect x="732.3" y="629.1" width="17.0" height="17.0"/>
<rect x="754.5" y="649.8" width="17.0" height="17.0"/>
<rect x="701.4" y="682.9" width="17.0" height="17.0"/>
<rect x="707.3" y="682.9" width="17.0" height="17.0"/>
<rect x="750.3" y="673.2" width="17.0" height="17.0"/>
<rect x="755.7" y="671.9" width="17.0" height="17.0"/>
<rect x="754.5" y="687.7" width="17.0" height="17.0"/>
<rect x="748.9" y="708.4" width="17.0" height="17.0"/>
<rect x="794.4" y="686.0" width="17.0" height="17.0"/>
<rect x="636.1" y="742.8" width="17.0" height="17.0"/>
<rect x="641.7" y="747.0" width="17.0" height="17.0"/>
<rect x="573.9" y="358.6" width="17.0" height="17.0"/>
<rect x="583.2" y="367.1" width="17.0" height="17.0"/>
<rect x="562.0" y="365.4" width="17.0" height="17.0"/>
<rect x="587.5" y="444.3" width="17.0" height="17.0"/>
<rect x="640.1" y="446.8" width="17.0" height="17.0"/>
<rect x="563.2" y="405.6" width="17.0" height="17.0"/>
</g>
<g fill="none" stroke="#0000d8" stroke-width="2.7">
<rect x="334.0" y="190.4" width="10.9" height="10.9"/>
<rect x="264.5" y="222.3" width="10.9" height="10.9"/>
<rect x="303.5" y="240.4" width="10.9" height="10.9"/>
<rect x="275.5" y="251.4" width="10.9" height="10.9"/>
<rect x="357.4" y="213.8" width="10.9" height="10.9"/>
<rect x="351.0" y="222.3" width="10.9" height="10.9"/>
<rect x="339.8" y="232.4" width="10.9" height="10.9"/>
<rect x="344.7" y="232.4" width="10.9" height="10.9"/>
<rect x="542.1" y="136.3" width="10.9" height="10.9"/>
<rect x="507.4" y="144.7" width="10.9" height="10.9"/>
<rect x="472.6" y="164.1" width="10.9" height="10.9"/>
<rect x="536.6" y="171.0" width="10.9" height="10.9"/>
<rect x="562.8" y="172.2" width="10.9" height="10.9"/>
<rect x="429.7" y="182.1" width="10.9" height="10.9"/>
<rect x="556.1" y="184.6" width="10.9" height="10.9"/>
<rect x="563.0" y="192.1" width="10.9" height="10.9"/>
<rect x="560.0" y="197.7" width="10.9" height="10.9"/>
<rect x="568.6" y="197.3" width="10.9" height="10.9"/>
<rect x="405.9" y="201.6" width="10.9" height="10.9"/>
<rect x="468.4" y="205.8" width="10.9" height="10.9"/>
<rect x="512.8" y="207.0" width="10.9" height="10.9"/>
<rect x="375.4" y="211.2" width="10.9" height="10.9"/>
<rect x="377.1" y="222.3" width="10.9" height="10.9"/>
<rect x="532.3" y="221.1" width="10.9" height="10.9"/>
<rect x="550.1" y="225.2" width="10.9" height="10.9"/>
<rect x="568.8" y="227.4" width="10.9" height="10.9"/>
<rect x="519.6" y="233.3" width="10.9" height="10.9"/>
<rect x="556.1" y="237.5" width="10.9" height="10.9"/>
<rect x="482.6" y="235.8" width="10.9" height="10.9"/>
<rect x="479.4" y="240.1" width="10.9" height="10.9"/>
<rect x="479.7" y="244.8" width="10.9" height="10.9"/>
<rect x="414.4" y="240.1" width="10.9" height="10.9"/>
<rect x="399.1" y="244.8" width="10.9" height="10.9"/>
<rect x="415.6" y="249.9" width="10.9" height="10.9"/>
<rect x="542.1" y="248.9" width="10.9" height="10.9"/>
<rect x="509.9" y="251.1" width="10.9" height="10.9"/>
<rect x="381.3" y="258.7" width="10.9" height="10.9"/>
<rect x="454.6" y="256.7" width="10.9" height="10.9"/>
<rect x="594.9" y="145.9" width="10.9" height="10.9"/>
<rect x="613.1" y="150.2" width="10.9" height="10.9"/>
<rect x="636.5" y="183.3" width="10.9" height="10.9"/>
<rect x="723.8" y="183.3" width="10.9" height="10.9"/>
<rect x="738.8" y="193.1" width="10.9" height="10.9"/>
<rect x="749.3" y="191.7" width="10.9" height="10.9"/>
<rect x="605.9" y="202.8" width="10.9" height="10.9"/>
<rect x="616.1" y="201.6" width="10.9" height="10.9"/>
<rect x="658.5" y="201.6" width="10.9" height="10.9"/>
<rect x="694.1" y="201.6" width="10.9" height="10.9"/>
<rect x="685.7" y="205.3" width="10.9" height="10.9"/>
<rect x="683.6" y="209.5" width="10.9" height="10.9"/>
<rect x="593.7" y="209.5" width="10.9" height="10.9"/>
<rect x="583.9" y="218.4" width="10.9" height="10.9"/>
<rect x="585.1" y="220.9" width="10.9" height="10.9"/>
<rect x="590.7" y="231.6" width="10.9" height="10.9"/>
<rect x="599.7" y="244.3" width="10.9" height="10.9"/>
<rect x="623.7" y="244.3" width="10.9" height="10.9"/>
<rect x="680.9" y="240.4" width="10.9" height="10.9"/>
<rect x="768.4" y="212.6" width="10.9" height="10.9"/>
<rect x="773.0" y="212.6" width="10.9" height="10.9"/>
<rect x="769.6" y="254.5" width="10.9" height="10.9"/>
<rect x="773.9" y="255.3" width="10.9" height="10.9"/>
<rect x="656.0" y="260.8" width="10.9" height="10.9"/>
<rect x="782.2" y="177.8" width="10.9" height="10.9"/>
<rect x="817.0" y="208.4" width="10.9" height="10.9"/>
<rect x="817.0" y="214.1" width="10.9" height="10.9"/>
<rect x="879.4" y="218.0" width="10.9" height="10.9"/>
<rect x="914.0" y="227.9" width="10.9" height="10.9"/>
<rect x="867.8" y="240.4" width="10.9" height="10.9"/>
<rect x="923.8" y="250.3" width="10.9" height="10.9"/>
<rect x="286.5" y="265.4" width="10.9" height="10.9"/>
<rect x="296.3" y="278.1" width="10.9" height="10.9"/>
<rect x="272.6" y="284.9" width="10.9" height="10.9"/>
<rect x="328.1" y="280.7" width="10.9" height="10.9"/>
<rect x="334.0" y="284.9" width="10.9" height="10.9"/>
<rect x="368.8" y="279.5" width="10.9" height="10.9"/>
<rect x="282.6" y="303.2" width="10.9" height="10.9"/>
<rect x="292.8" y="313.7" width="10.9" height="10.9"/>
<rect x="295.0" y="325.1" width="10.9" height="10.9"/>
<rect x="353.5" y="307.0" width="10.9" height="10.9"/>
<rect x="345.0" y="311.2" width="10.9" height="10.9"/>
<rect x="196.3" y="319.7" width="10.9" height="10.9"/>
<rect x="228.5" y="338.9" width="10.9" height="10.9"/>
<rect x="358.9" y="334.6" width="10.9" height="10.9"/>
<rect x="334.0" y="341.7" width="10.9" height="10.9"/>
<rect x="332.3" y="351.9" width="10.9" height="10.9"/>
<rect x="308.9" y="349.4" width="10.9" height="10.9"/>
<rect x="307.7" y="357.0" width="10.9" height="10.9"/>
<rect x="264.5" y="365.1" width="10.9" height="10.9"/>
<rect x="278.4" y="376.5" width="10.9" height="10.9"/>
<rect x="297.5" y="370.9" width="10.9" height="10.9"/>
<rect x="306.0" y="382.4" width="10.9" height="10.9"/>
<rect x="313.7" y="381.9" width="10.9" height="10.9"/>
<rect x="313.3" y="389.6" width="10.9" height="10.9"/>
<rect x="275.8" y="397.4" width="10.9" height="10.9"/>
<rect x="281.8" y="398.6" width="10.9" height="10.9"/>
<rect x="274.6" y="407.4" width="10.9" height="10.9"/>
<rect x="235.3" y="409.6" width="10.9" height="10.9"/>
<rect x="369.6" y="408.7" width="10.9" height="10.9"/>
<rect x="373.0" y="364.1" width="10.9" height="10.9"/>
<rect x="461.7" y="269.4" width="10.9" height="10.9"/>
<rect x="462.8" y="263.9" width="10.9" height="10.9"/>
<rect x="473.8" y="264.6" width="10.9" height="10.9"/>
<rect x="381.2" y="297.2" width="10.9" height="10.9"/>
<rect x="383.9" y="307.0" width="10.9" height="10.9"/>
<rect x="407.4" y="295.9" width="10.9" height="10.9"/>
<rect x="436.5" y="293.4" width="10.9" height="10.9"/>
<rect x="445.2" y="295.8" width="10.9" height="10.9"/>
<rect x="426.9" y="304.4" width="10.9" height="10.9"/>
<rect x="432.7" y="306.1" width="10.9" height="10.9"/>
<rect x="432.7" y="311.0" width="10.9" height="10.9"/>
<rect x="457.7" y="308.2" width="10.9" height="10.9"/>
<rect x="454.1" y="318.6" width="10.9" height="10.9"/>
<rect x="454.3" y="323.8" width="10.9" height="10.9"/>
<rect x="399.1" y="324.9" width="10.9" height="10.9"/>
<rect x="444.9" y="332.1" width="10.9" height="10.9"/>
<rect x="435.2" y="336.2" width="10.9" height="10.9"/>
<rect x="473.1" y="333.3" width="10.9" height="10.9"/>
<rect x="567.0" y="265.2" width="10.9" height="10.9"/>
<rect x="549.0" y="284.9" width="10.9" height="10.9"/>
<rect x="504.7" y="297.2" width="10.9" height="10.9"/>
<rect x="504.7" y="305.4" width="10.9" height="10.9"/>
<rect x="511.4" y="308.2" width="10.9" height="10.9"/>
<rect x="524.6" y="315.2" width="10.9" height="10.9"/>
<rect x="519.9" y="325.2" width="10.9" height="10.9"/>
<rect x="539.4" y="305.3" width="10.9" height="10.9"/>
<rect x="544.9" y="315.2" width="10.9" height="10.9"/>
<rect x="475.6" y="315.4" width="10.9" height="10.9"/>
<rect x="572.3" y="317.7" width="10.9" height="10.9"/>
<rect x="486.3" y="333.3" width="10.9" height="10.9"/>
<rect x="442.1" y="345.7" width="10.9" height="10.9"/>
<rect x="447.7" y="345.7" width="10.9" height="10.9"/>
<rect x="389.4" y="369.7" width="10.9" height="10.9"/>
<rect x="405.9" y="356.9" width="10.9" height="10.9"/>
<rect x="402.5" y="360.3" width="10.9" height="10.9"/>
<rect x="403.0" y="363.7" width="10.9" height="10.9"/>
<rect x="425.7" y="357.2" width="10.9" height="10.9"/>
<rect x="427.0" y="359.7" width="10.9" height="10.9"/>
<rect x="440.9" y="372.5" width="10.9" height="10.9"/>
<rect x="429.7" y="386.2" width="10.9" height="10.9"/>
<rect x="413.1" y="394.3" width="10.9" height="10.9"/>
<rect x="403.0" y="397.2" width="10.9" height="10.9"/>
<rect x="442.4" y="401.9" width="10.9" height="10.9"/>
<rect x="444.7" y="402.5" width="10.9" height="10.9"/>
<rect x="453.9" y="409.9" width="10.9" height="10.9"/>
<rect x="496.3" y="341.5" width="10.9" height="10.9"/>
<rect x="511.5" y="345.9" width="10.9" height="10.9"/>
<rect x="544.9" y="341.7" width="10.9" height="10.9"/>
<rect x="569.5" y="342.9" width="10.9" height="10.9"/>
<rect x="483.6" y="365.4" width="10.9" height="10.9"/>
<rect x="493.5" y="365.4" width="10.9" height="10.9"/>
<rect x="532.5" y="365.4" width="10.9" height="10.9"/>
<rect x="558.7" y="366.7" width="10.9" height="10.9"/>
<rect x="563.6" y="369.2" width="10.9" height="10.9"/>
<rect x="573.1" y="385.4" width="10.9" height="10.9"/>
<rect x="494.9" y="394.3" width="10.9" height="10.9"/>
<rect x="510.6" y="395.5" width="10.9" height="10.9"/>
<rect x="512.7" y="394.7" width="10.9" height="10.9"/>
<rect x="483.9" y="404.4" width="10.9" height="10.9"/>
<rect x="491.1" y="403.3" width="10.9" height="10.9"/>
<rect x="543.4" y="394.4" width="10.9" height="10.9"/>
<rect x="543.4" y="398.8" width="10.9" height="10.9"/>
<rect x="560.0" y="398.9" width="10.9" height="10.9"/>
<rect x="566.0" y="398.9" width="10.9" height="10.9"/>
<rect x="635.1" y="266.2" width="10.9" height="10.9"/>
<rect x="586.6" y="278.0" width="10.9" height="10.9"/>
<rect x="599.1" y="289.1" width="10.9" height="10.9"/>
<rect x="596.5" y="292.1" width="10.9" height="10.9"/>
<rect x="579.6" y="297.2" width="10.9" height="10.9"/>
<rect x="584.7" y="298.5" width="10.9" height="10.9"/>
<rect x="583.0" y="308.7" width="10.9" height="10.9"/>
<rect x="598.0" y="304.0" width="10.9" height="10.9"/>
<rect x="600.4" y="305.7" width="10.9" height="10.9"/>
<rect x="618.6" y="297.5" width="10.9" height="10.9"/>
<rect x="596.1" y="327.7" width="10.9" height="10.9"/>
<rect x="644.9" y="293.0" width="10.9" height="10.9"/>
<rect x="639.2" y="309.5" width="10.9" height="10.9"/>
<rect x="646.3" y="302.7" width="10.9" height="10.9"/>
<rect x="643.4" y="330.7" width="10.9" height="10.9"/>
<rect x="719.8" y="270.9" width="10.9" height="10.9"/>
<rect x="672.7" y="284.7" width="10.9" height="10.9"/>
<rect x="685.2" y="284.7" width="10.9" height="10.9"/>
<rect x="655.9" y="303.6" width="10.9" height="10.9"/>
<rect x="655.9" y="309.9" width="10.9" height="10.9"/>
<rect x="667.2" y="300.2" width="10.9" height="10.9"/>
<rect x="716.0" y="291.7" width="10.9" height="10.9"/>
<rect x="707.1" y="302.9" width="10.9" height="10.9"/>
<rect x="714.3" y="304.4" width="10.9" height="10.9"/>
<rect x="671.0" y="319.5" width="10.9" height="10.9"/>
<rect x="686.5" y="319.5" width="10.9" height="10.9"/>
<rect x="715.6" y="319.3" width="10.9" height="10.9"/>
<rect x="727.0" y="326.5" width="10.9" height="10.9"/>
<rect x="704.3" y="322.4" width="10.9" height="10.9"/>
<rect x="700.1" y="323.9" width="10.9" height="10.9"/>
<rect x="703.0" y="328.9" width="10.9" height="10.9"/>
<rect x="696.3" y="333.6" width="10.9" height="10.9"/>
<rect x="698.8" y="333.9" width="10.9" height="10.9"/>
<rect x="748.9" y="272.2" width="10.9" height="10.9"/>
<rect x="767.0" y="274.9" width="10.9" height="10.9"/>
<rect x="740.0" y="297.5" width="10.9" height="10.9"/>
<rect x="755.9" y="286.2" width="10.9" height="10.9"/>
<rect x="753.1" y="290.0" width="10.9" height="10.9"/>
<rect x="753.1" y="301.4" width="10.9" height="10.9"/>
<rect x="761.6" y="297.2" width="10.9" height="10.9"/>
<rect x="775.4" y="294.4" width="10.9" height="10.9"/>
<rect x="748.9" y="315.4" width="10.9" height="10.9"/>
<rect x="779.4" y="312.7" width="10.9" height="10.9"/>
<rect x="790.9" y="307.0" width="10.9" height="10.9"/>
<rect x="854.6" y="276.4" width="10.9" height="10.9"/>
<rect x="815.8" y="304.2" width="10.9" height="10.9"/>
<rect x="881.9" y="291.7" width="10.9" height="10.9"/>
<rect x="893.1" y="294.4" width="10.9" height="10.9"/>
<rect x="882.1" y="312.7" width="10.9" height="10.9"/>
<rect x="882.1" y="318.2" width="10.9" height="10.9"/>
<rect x="911.4" y="273.9" width="10.9" height="10.9"/>
<rect x="907.3" y="307.0" width="10.9" height="10.9"/>
<rect x="893.5" y="315.1" width="10.9" height="10.9"/>
<rect x="900.8" y="323.9" width="10.9" height="10.9"/>
<rect x="897.5" y="333.8" width="10.9" height="10.9"/>
<rect x="929.2" y="324.8" width="10.9" height="10.9"/>
<rect x="947.5" y="323.6" width="10.9" height="10.9"/>
<rect x="903.0" y="375.2" width="10.9" height="10.9"/>
<rect x="1007.2" y="361.2" width="10.9" height="10.9"/>
<rect x="989.1" y="390.4" width="10.9" height="10.9"/>
<rect x="904.6" y="402.8" width="10.9" height="10.9"/>
<rect x="930.9" y="402.0" width="10.9" height="10.9"/>
<rect x="928.8" y="411.8" width="10.9" height="10.9"/>
<rect x="918.7" y="411.5" width="10.9" height="10.9"/>
<rect x="575.8" y="353.3" width="10.9" height="10.9"/>
<rect x="577.0" y="358.6" width="10.9" height="10.9"/>
<rect x="587.8" y="360.1" width="10.9" height="10.9"/>
<rect x="573.6" y="370.5" width="10.9" height="10.9"/>
<rect x="591.9" y="369.7" width="10.9" height="10.9"/>
<rect x="585.5" y="372.2" width="10.9" height="10.9"/>
<rect x="576.2" y="382.8" width="10.9" height="10.9"/>
<rect x="592.3" y="383.7" width="10.9" height="10.9"/>
<rect x="604.6" y="383.7" width="10.9" height="10.9"/>
<rect x="602.9" y="394.9" width="10.9" height="10.9"/>
<rect x="611.4" y="398.9" width="10.9" height="10.9"/>
<rect x="599.1" y="408.4" width="10.9" height="10.9"/>
<rect x="599.1" y="340.2" width="10.9" height="10.9"/>
<rect x="598.7" y="345.9" width="10.9" height="10.9"/>
<rect x="610.1" y="354.0" width="10.9" height="10.9"/>
<rect x="615.2" y="344.2" width="10.9" height="10.9"/>
<rect x="628.3" y="345.9" width="10.9" height="10.9"/>
<rect x="616.9" y="372.2" width="10.9" height="10.9"/>
<rect x="627.1" y="386.6" width="10.9" height="10.9"/>
<rect x="633.0" y="374.7" width="10.9" height="10.9"/>
<rect x="638.1" y="372.2" width="10.9" height="10.9"/>
<rect x="648.7" y="349.7" width="10.9" height="10.9"/>
<rect x="646.6" y="354.0" width="10.9" height="10.9"/>
<rect x="643.6" y="359.5" width="10.9" height="10.9"/>
<rect x="654.2" y="375.2" width="10.9" height="10.9"/>
<rect x="644.9" y="398.9" width="10.9" height="10.9"/>
<rect x="641.1" y="402.7" width="10.9" height="10.9"/>
<rect x="631.7" y="408.3" width="10.9" height="10.9"/>
<rect x="635.1" y="407.0" width="10.9" height="10.9"/>
<rect x="653.9" y="364.8" width="10.9" height="10.9"/>
<rect x="670.2" y="340.6" width="10.9" height="10.9"/>
<rect x="671.0" y="351.2" width="10.9" height="10.9"/>
<rect x="714.3" y="351.4" width="10.9" height="10.9"/>
<rect x="727.8" y="345.9" width="10.9" height="10.9"/>
<rect x="680.8" y="376.4" width="10.9" height="10.9"/>
<rect x="688.0" y="387.5" width="10.9" height="10.9"/>
<rect x="729.1" y="372.2" width="10.9" height="10.9"/>
<rect x="718.3" y="396.0" width="10.9" height="10.9"/>
<rect x="668.5" y="408.4" width="10.9" height="10.9"/>
<rect x="703.3" y="412.7" width="10.9" height="10.9"/>
<rect x="747.5" y="349.9" width="10.9" height="10.9"/>
<rect x="740.4" y="398.5" width="10.9" height="10.9"/>
<rect x="793.4" y="359.9" width="10.9" height="10.9"/>
<rect x="763.1" y="362.5" width="10.9" height="10.9"/>
<rect x="754.0" y="368.2" width="10.9" height="10.9"/>
<rect x="765.6" y="369.7" width="10.9" height="10.9"/>
<rect x="775.2" y="373.5" width="10.9" height="10.9"/>
<rect x="787.7" y="376.4" width="10.9" height="10.9"/>
<rect x="803.2" y="394.3" width="10.9" height="10.9"/>
<rect x="761.6" y="408.7" width="10.9" height="10.9"/>
<rect x="779.2" y="408.3" width="10.9" height="10.9"/>
<rect x="871.3" y="356.9" width="10.9" height="10.9"/>
<rect x="854.8" y="366.7" width="10.9" height="10.9"/>
<rect x="847.8" y="372.2" width="10.9" height="10.9"/>
<rect x="850.3" y="376.6" width="10.9" height="10.9"/>
<rect x="835.1" y="380.7" width="10.9" height="10.9"/>
<rect x="842.0" y="404.4" width="10.9" height="10.9"/>
<rect x="833.4" y="333.2" width="10.9" height="10.9"/>
<rect x="837.8" y="337.6" width="10.9" height="10.9"/>
<rect x="844.9" y="334.7" width="10.9" height="10.9"/>
<rect x="224.1" y="417.4" width="10.9" height="10.9"/>
<rect x="274.3" y="425.1" width="10.9" height="10.9"/>
<rect x="295.0" y="431.9" width="10.9" height="10.9"/>
<rect x="272.6" y="445.9" width="10.9" height="10.9"/>
<rect x="254.8" y="459.8" width="10.9" height="10.9"/>
<rect x="282.3" y="459.8" width="10.9" height="10.9"/>
<rect x="293.8" y="461.2" width="10.9" height="10.9"/>
<rect x="296.7" y="464.3" width="10.9" height="10.9"/>
<rect x="242.1" y="483.3" width="10.9" height="10.9"/>
<rect x="306.0" y="487.8" width="10.9" height="10.9"/>
<rect x="342.1" y="454.4" width="10.9" height="10.9"/>
<rect x="356.1" y="455.8" width="10.9" height="10.9"/>
<rect x="362.8" y="443.4" width="10.9" height="10.9"/>
<rect x="369.6" y="433.2" width="10.9" height="10.9"/>
<rect x="334.0" y="475.1" width="10.9" height="10.9"/>
<rect x="368.8" y="476.5" width="10.9" height="10.9"/>
<rect x="340.8" y="491.7" width="10.9" height="10.9"/>
<rect x="340.8" y="512.6" width="10.9" height="10.9"/>
<rect x="334.9" y="518.4" width="10.9" height="10.9"/>
<rect x="374.4" y="519.2" width="10.9" height="10.9"/>
<rect x="315.7" y="552.8" width="10.9" height="10.9"/>
<rect x="410.2" y="419.6" width="10.9" height="10.9"/>
<rect x="396.2" y="433.4" width="10.9" height="10.9"/>
<rect x="417.0" y="428.5" width="10.9" height="10.9"/>
<rect x="413.1" y="431.9" width="10.9" height="10.9"/>
<rect x="400.8" y="446.1" width="10.9" height="10.9"/>
<rect x="400.7" y="451.4" width="10.9" height="10.9"/>
<rect x="385.2" y="461.2" width="10.9" height="10.9"/>
<rect x="439.4" y="448.5" width="10.9" height="10.9"/>
<rect x="433.9" y="455.3" width="10.9" height="10.9"/>
<rect x="434.9" y="463.3" width="10.9" height="10.9"/>
<rect x="433.9" y="469.4" width="10.9" height="10.9"/>
<rect x="458.9" y="452.7" width="10.9" height="10.9"/>
<rect x="464.9" y="448.5" width="10.9" height="10.9"/>
<rect x="465.7" y="451.9" width="10.9" height="10.9"/>
<rect x="465.5" y="464.2" width="10.9" height="10.9"/>
<rect x="445.1" y="486.2" width="10.9" height="10.9"/>
<rect x="463.2" y="483.3" width="10.9" height="10.9"/>
<rect x="476.0" y="462.9" width="10.9" height="10.9"/>
<rect x="497.6" y="421.2" width="10.9" height="10.9"/>
<rect x="497.6" y="423.7" width="10.9" height="10.9"/>
<rect x="543.4" y="422.2" width="10.9" height="10.9"/>
<rect x="552.8" y="441.7" width="10.9" height="10.9"/>
<rect x="562.9" y="443.0" width="10.9" height="10.9"/>
<rect x="501.9" y="443.4" width="10.9" height="10.9"/>
<rect x="498.1" y="447.2" width="10.9" height="10.9"/>
<rect x="517.1" y="437.5" width="10.9" height="10.9"/>
<rect x="521.4" y="439.1" width="10.9" height="10.9"/>
<rect x="529.9" y="443.0" width="10.9" height="10.9"/>
<rect x="523.9" y="450.2" width="10.9" height="10.9"/>
<rect x="515.4" y="450.2" width="10.9" height="10.9"/>
<rect x="509.9" y="457.4" width="10.9" height="10.9"/>
<rect x="484.9" y="455.3" width="10.9" height="10.9"/>
<rect x="493.4" y="460.8" width="10.9" height="10.9"/>
<rect x="506.1" y="472.2" width="10.9" height="10.9"/>
<rect x="523.9" y="472.2" width="10.9" height="10.9"/>
<rect x="485.3" y="477.7" width="10.9" height="10.9"/>
<rect x="535.6" y="486.0" width="10.9" height="10.9"/>
<rect x="567.3" y="417.1" width="10.9" height="10.9"/>
<rect x="568.5" y="422.6" width="10.9" height="10.9"/>
<rect x="580.0" y="427.3" width="10.9" height="10.9"/>
<rect x="579.1" y="432.8" width="10.9" height="10.9"/>
<rect x="574.5" y="431.9" width="10.9" height="10.9"/>
<rect x="576.2" y="451.4" width="10.9" height="10.9"/>
<rect x="593.7" y="440.0" width="10.9" height="10.9"/>
<rect x="593.7" y="444.2" width="10.9" height="10.9"/>
<rect x="591.9" y="451.0" width="10.9" height="10.9"/>
<rect x="594.4" y="454.4" width="10.9" height="10.9"/>
<rect x="591.0" y="457.0" width="10.9" height="10.9"/>
<rect x="594.4" y="464.2" width="10.9" height="10.9"/>
<rect x="608.0" y="450.6" width="10.9" height="10.9"/>
<rect x="606.3" y="462.9" width="10.9" height="10.9"/>
<rect x="606.3" y="471.4" width="10.9" height="10.9"/>
<rect x="605.9" y="476.5" width="10.9" height="10.9"/>
<rect x="617.7" y="477.7" width="10.9" height="10.9"/>
<rect x="630.9" y="480.7" width="10.9" height="10.9"/>
<rect x="651.8" y="473.9" width="10.9" height="10.9"/>
<rect x="619.9" y="425.2" width="10.9" height="10.9"/>
<rect x="644.9" y="429.4" width="10.9" height="10.9"/>
<rect x="631.3" y="442.5" width="10.9" height="10.9"/>
<rect x="636.4" y="442.1" width="10.9" height="10.9"/>
<rect x="642.3" y="443.0" width="10.9" height="10.9"/>
<rect x="632.6" y="455.3" width="10.9" height="10.9"/>
<rect x="643.2" y="454.0" width="10.9" height="10.9"/>
<rect x="650.6" y="446.8" width="10.9" height="10.9"/>
<rect x="656.0" y="457.0" width="10.9" height="10.9"/>
<rect x="600.8" y="418.6" width="10.9" height="10.9"/>
<rect x="669.6" y="420.9" width="10.9" height="10.9"/>
<rect x="682.3" y="472.2" width="10.9" height="10.9"/>
<rect x="720.9" y="427.7" width="10.9" height="10.9"/>
<rect x="727.2" y="425.2" width="10.9" height="10.9"/>
<rect x="725.3" y="443.4" width="10.9" height="10.9"/>
<rect x="728.1" y="461.2" width="10.9" height="10.9"/>
<rect x="737.8" y="465.0" width="10.9" height="10.9"/>
<rect x="714.1" y="473.9" width="10.9" height="10.9"/>
<rect x="731.9" y="473.9" width="10.9" height="10.9"/>
<rect x="720.0" y="487.5" width="10.9" height="10.9"/>
<rect x="736.6" y="487.5" width="10.9" height="10.9"/>
<rect x="763.0" y="419.6" width="10.9" height="10.9"/>
<rect x="806.0" y="430.7" width="10.9" height="10.9"/>
<rect x="811.4" y="439.0" width="10.9" height="10.9"/>
<rect x="753.2" y="434.7" width="10.9" height="10.9"/>
<rect x="759.1" y="444.7" width="10.9" height="10.9"/>
<rect x="788.0" y="445.9" width="10.9" height="10.9"/>
<rect x="803.1" y="457.4" width="10.9" height="10.9"/>
<rect x="830.8" y="444.7" width="10.9" height="10.9"/>
<rect x="748.7" y="449.7" width="10.9" height="10.9"/>
<rect x="748.1" y="457.4" width="10.9" height="10.9"/>
<rect x="748.1" y="456.1" width="10.9" height="10.9"/>
<rect x="764.2" y="462.5" width="10.9" height="10.9"/>
<rect x="778.2" y="469.3" width="10.9" height="10.9"/>
<rect x="772.7" y="473.5" width="10.9" height="10.9"/>
<rect x="793.2" y="411.4" width="10.9" height="10.9"/>
<rect x="792.0" y="416.4" width="10.9" height="10.9"/>
<rect x="782.6" y="419.6" width="10.9" height="10.9"/>
<rect x="785.2" y="418.8" width="10.9" height="10.9"/>
<rect x="837.8" y="420.5" width="10.9" height="10.9"/>
<rect x="837.8" y="422.5" width="10.9" height="10.9"/>
<rect x="864.4" y="419.6" width="10.9" height="10.9"/>
<rect x="850.0" y="443.0" width="10.9" height="10.9"/>
<rect x="860.5" y="438.8" width="10.9" height="10.9"/>
<rect x="866.1" y="436.1" width="10.9" height="10.9"/>
<rect x="880.9" y="436.3" width="10.9" height="10.9"/>
<rect x="914.5" y="434.9" width="10.9" height="10.9"/>
<rect x="902.9" y="443.0" width="10.9" height="10.9"/>
<rect x="910.2" y="455.8" width="10.9" height="10.9"/>
<rect x="893.3" y="459.8" width="10.9" height="10.9"/>
<rect x="835.1" y="466.3" width="10.9" height="10.9"/>
<rect x="844.9" y="473.9" width="10.9" height="10.9"/>
<rect x="869.5" y="471.0" width="10.9" height="10.9"/>
<rect x="907.2" y="472.2" width="10.9" height="10.9"/>
<rect x="917.0" y="476.5" width="10.9" height="10.9"/>
<rect x="934.8" y="472.6" width="10.9" height="10.9"/>
<rect x="972.6" y="439.1" width="10.9" height="10.9"/>
<rect x="983.5" y="445.9" width="10.9" height="10.9"/>
<rect x="1003.0" y="437.5" width="10.9" height="10.9"/>
<rect x="990.5" y="471.9" width="10.9" height="10.9"/>
<rect x="996.2" y="471.0" width="10.9" height="10.9"/>
<rect x="1007.4" y="490.5" width="10.9" height="10.9"/>
<rect x="883.6" y="488.9" width="10.9" height="10.9"/>
<rect x="880.9" y="495.6" width="10.9" height="10.9"/>
<rect x="841.9" y="497.3" width="10.9" height="10.9"/>
<rect x="918.4" y="514.1" width="10.9" height="10.9"/>
<rect x="989.1" y="514.1" width="10.9" height="10.9"/>
<rect x="850.0" y="526.5" width="10.9" height="10.9"/>
<rect x="847.5" y="531.6" width="10.9" height="10.9"/>
<rect x="876.8" y="541.8" width="10.9" height="10.9"/>
<rect x="912.8" y="544.8" width="10.9" height="10.9"/>
<rect x="869.5" y="562.5" width="10.9" height="10.9"/>
<rect x="1032.1" y="461.2" width="10.9" height="10.9"/>
<rect x="397.9" y="492.9" width="10.9" height="10.9"/>
<rect x="422.6" y="493.4" width="10.9" height="10.9"/>
<rect x="383.9" y="504.1" width="10.9" height="10.9"/>
<rect x="438.2" y="508.2" width="10.9" height="10.9"/>
<rect x="445.4" y="518.4" width="10.9" height="10.9"/>
<rect x="438.6" y="523.5" width="10.9" height="10.9"/>
<rect x="425.4" y="520.9" width="10.9" height="10.9"/>
<rect x="428.2" y="527.7" width="10.9" height="10.9"/>
<rect x="414.4" y="544.3" width="10.9" height="10.9"/>
<rect x="379.8" y="550.2" width="10.9" height="10.9"/>
<rect x="467.0" y="561.4" width="10.9" height="10.9"/>
<rect x="514.2" y="492.9" width="10.9" height="10.9"/>
<rect x="496.4" y="504.1" width="10.9" height="10.9"/>
<rect x="518.7" y="518.0" width="10.9" height="10.9"/>
<rect x="511.6" y="532.0" width="10.9" height="10.9"/>
<rect x="525.2" y="533.2" width="10.9" height="10.9"/>
<rect x="486.4" y="536.2" width="10.9" height="10.9"/>
<rect x="498.9" y="540.0" width="10.9" height="10.9"/>
<rect x="507.8" y="554.0" width="10.9" height="10.9"/>
<rect x="522.7" y="554.0" width="10.9" height="10.9"/>
<rect x="495.1" y="561.1" width="10.9" height="10.9"/>
<rect x="547.7" y="508.6" width="10.9" height="10.9"/>
<rect x="547.7" y="519.7" width="10.9" height="10.9"/>
<rect x="551.1" y="513.7" width="10.9" height="10.9"/>
<rect x="563.0" y="499.7" width="10.9" height="10.9"/>
<rect x="574.2" y="495.1" width="10.9" height="10.9"/>
<rect x="574.0" y="501.4" width="10.9" height="10.9"/>
<rect x="588.0" y="504.0" width="10.9" height="10.9"/>
<rect x="578.2" y="515.0" width="10.9" height="10.9"/>
<rect x="565.3" y="512.3" width="10.9" height="10.9"/>
<rect x="567.2" y="522.6" width="10.9" height="10.9"/>
<rect x="560.0" y="526.9" width="10.9" height="10.9"/>
<rect x="572.5" y="530.3" width="10.9" height="10.9"/>
<rect x="585.0" y="525.3" width="10.9" height="10.9"/>
<rect x="591.0" y="525.2" width="10.9" height="10.9"/>
<rect x="596.0" y="530.3" width="10.9" height="10.9"/>
<rect x="603.3" y="534.9" width="10.9" height="10.9"/>
<rect x="603.3" y="540.4" width="10.9" height="10.9"/>
<rect x="593.5" y="552.7" width="10.9" height="10.9"/>
<rect x="633.6" y="534.5" width="10.9" height="10.9"/>
<rect x="629.6" y="540.4" width="10.9" height="10.9"/>
<rect x="648.9" y="509.7" width="10.9" height="10.9"/>
<rect x="658.7" y="525.2" width="10.9" height="10.9"/>
<rect x="664.2" y="543.2" width="10.9" height="10.9"/>
<rect x="686.5" y="512.6" width="10.9" height="10.9"/>
<rect x="707.0" y="500.2" width="10.9" height="10.9"/>
<rect x="704.5" y="504.0" width="10.9" height="10.9"/>
<rect x="694.7" y="536.0" width="10.9" height="10.9"/>
<rect x="696.2" y="549.9" width="10.9" height="10.9"/>
<rect x="714.2" y="555.7" width="10.9" height="10.9"/>
<rect x="625.6" y="558.3" width="10.9" height="10.9"/>
<rect x="650.2" y="557.0" width="10.9" height="10.9"/>
<rect x="685.1" y="561.4" width="10.9" height="10.9"/>
<rect x="717.0" y="527.7" width="10.9" height="10.9"/>
<rect x="748.8" y="491.7" width="10.9" height="10.9"/>
<rect x="769.6" y="501.4" width="10.9" height="10.9"/>
<rect x="782.3" y="509.5" width="10.9" height="10.9"/>
<rect x="779.4" y="515.0" width="10.9" height="10.9"/>
<rect x="789.5" y="518.0" width="10.9" height="10.9"/>
<rect x="739.1" y="526.2" width="10.9" height="10.9"/>
<rect x="743.6" y="540.2" width="10.9" height="10.9"/>
<rect x="722.5" y="537.5" width="10.9" height="10.9"/>
<rect x="731.4" y="546.0" width="10.9" height="10.9"/>
<rect x="721.0" y="549.9" width="10.9" height="10.9"/>
<rect x="753.1" y="557.0" width="10.9" height="10.9"/>
<rect x="779.8" y="546.0" width="10.9" height="10.9"/>
<rect x="774.3" y="550.2" width="10.9" height="10.9"/>
<rect x="776.6" y="560.4" width="10.9" height="10.9"/>
<rect x="321.2" y="571.0" width="10.9" height="10.9"/>
<rect x="403.5" y="579.5" width="10.9" height="10.9"/>
<rect x="423.8" y="571.0" width="10.9" height="10.9"/>
<rect x="458.6" y="604.4" width="10.9" height="10.9"/>
<rect x="384.0" y="623.6" width="10.9" height="10.9"/>
<rect x="460.0" y="566.8" width="10.9" height="10.9"/>
<rect x="478.6" y="570.2" width="10.9" height="10.9"/>
<rect x="462.8" y="580.8" width="10.9" height="10.9"/>
<rect x="470.0" y="579.1" width="10.9" height="10.9"/>
<rect x="485.1" y="582.1" width="10.9" height="10.9"/>
<rect x="508.6" y="577.6" width="10.9" height="10.9"/>
<rect x="526.7" y="575.1" width="10.9" height="10.9"/>
<rect x="529.4" y="594.4" width="10.9" height="10.9"/>
<rect x="535.3" y="607.1" width="10.9" height="10.9"/>
<rect x="533.8" y="631.3" width="10.9" height="10.9"/>
<rect x="565.8" y="568.1" width="10.9" height="10.9"/>
<rect x="590.7" y="560.1" width="10.9" height="10.9"/>
<rect x="596.0" y="560.1" width="10.9" height="10.9"/>
<rect x="601.6" y="571.5" width="10.9" height="10.9"/>
<rect x="611.3" y="576.2" width="10.9" height="10.9"/>
<rect x="618.3" y="566.8" width="10.9" height="10.9"/>
<rect x="632.9" y="571.1" width="10.9" height="10.9"/>
<rect x="624.0" y="577.9" width="10.9" height="10.9"/>
<rect x="624.0" y="584.7" width="10.9" height="10.9"/>
<rect x="625.3" y="602.5" width="10.9" height="10.9"/>
<rect x="572.7" y="593.1" width="10.9" height="10.9"/>
<rect x="578.2" y="594.2" width="10.9" height="10.9"/>
<rect x="553.2" y="601.2" width="10.9" height="10.9"/>
<rect x="564.2" y="611.0" width="10.9" height="10.9"/>
<rect x="574.0" y="619.4" width="10.9" height="10.9"/>
<rect x="639.1" y="571.1" width="10.9" height="10.9"/>
<rect x="691.1" y="570.7" width="10.9" height="10.9"/>
<rect x="682.2" y="580.6" width="10.9" height="10.9"/>
<rect x="689.4" y="583.0" width="10.9" height="10.9"/>
<rect x="694.9" y="598.7" width="10.9" height="10.9"/>
<rect x="703.0" y="615.2" width="10.9" height="10.9"/>
<rect x="683.9" y="613.5" width="10.9" height="10.9"/>
<rect x="678.4" y="617.7" width="10.9" height="10.9"/>
<rect x="688.6" y="625.1" width="10.9" height="10.9"/>
<rect x="654.7" y="628.9" width="10.9" height="10.9"/>
<rect x="725.2" y="579.1" width="10.9" height="10.9"/>
<rect x="740.4" y="579.1" width="10.9" height="10.9"/>
<rect x="730.7" y="565.2" width="10.9" height="10.9"/>
<rect x="740.4" y="565.2" width="10.9" height="10.9"/>
<rect x="780.9" y="571.1" width="10.9" height="10.9"/>
<rect x="778.2" y="588.9" width="10.9" height="10.9"/>
<rect x="798.9" y="593.1" width="10.9" height="10.9"/>
<rect x="911.4" y="566.4" width="10.9" height="10.9"/>
<rect x="856.3" y="582.0" width="10.9" height="10.9"/>
<rect x="866.5" y="583.4" width="10.9" height="10.9"/>
<rect x="847.5" y="601.5" width="10.9" height="10.9"/>
<rect x="879.2" y="605.1" width="10.9" height="10.9"/>
<rect x="882.2" y="615.3" width="10.9" height="10.9"/>
<rect x="816.8" y="641.6" width="10.9" height="10.9"/>
<rect x="551.9" y="635.9" width="10.9" height="10.9"/>
<rect x="540.9" y="645.8" width="10.9" height="10.9"/>
<rect x="551.9" y="650.0" width="10.9" height="10.9"/>
<rect x="540.6" y="659.8" width="10.9" height="10.9"/>
<rect x="486.8" y="650.0" width="10.9" height="10.9"/>
<rect x="478.3" y="677.6" width="10.9" height="10.9"/>
<rect x="502.9" y="694.1" width="10.9" height="10.9"/>
<rect x="536.3" y="687.3" width="10.9" height="10.9"/>
<rect x="541.9" y="698.7" width="10.9" height="10.9"/>
<rect x="564.3" y="717.8" width="10.9" height="10.9"/>
<rect x="589.3" y="736.0" width="10.9" height="10.9"/>
<rect x="576.7" y="647.5" width="10.9" height="10.9"/>
<rect x="583.8" y="647.5" width="10.9" height="10.9"/>
<rect x="589.3" y="640.2" width="10.9" height="10.9"/>
<rect x="576.7" y="676.3" width="10.9" height="10.9"/>
<rect x="586.4" y="686.0" width="10.9" height="10.9"/>
<rect x="602.0" y="684.4" width="10.9" height="10.9"/>
<rect x="629.1" y="676.8" width="10.9" height="10.9"/>
<rect x="636.3" y="645.8" width="10.9" height="10.9"/>
<rect x="648.0" y="642.9" width="10.9" height="10.9"/>
<rect x="660.4" y="642.0" width="10.9" height="10.9"/>
<rect x="666.3" y="632.2" width="10.9" height="10.9"/>
<rect x="697.3" y="654.2" width="10.9" height="10.9"/>
<rect x="713.8" y="632.2" width="10.9" height="10.9"/>
<rect x="718.0" y="636.1" width="10.9" height="10.9"/>
<rect x="735.3" y="632.2" width="10.9" height="10.9"/>
<rect x="757.6" y="652.9" width="10.9" height="10.9"/>
<rect x="704.5" y="686.0" width="10.9" height="10.9"/>
<rect x="710.4" y="686.0" width="10.9" height="10.9"/>
<rect x="753.3" y="676.3" width="10.9" height="10.9"/>
<rect x="758.7" y="674.9" width="10.9" height="10.9"/>
<rect x="757.6" y="690.7" width="10.9" height="10.9"/>
<rect x="752.0" y="711.4" width="10.9" height="10.9"/>
<rect x="797.4" y="689.0" width="10.9" height="10.9"/>
<rect x="639.1" y="745.8" width="10.9" height="10.9"/>
<rect x="644.7" y="750.1" width="10.9" height="10.9"/>
<rect x="576.9" y="361.7" width="10.9" height="10.9"/>
<rect x="586.2" y="370.2" width="10.9" height="10.9"/>
<rect x="565.0" y="368.4" width="10.9" height="10.9"/>
<rect x="590.5" y="447.4" width="10.9" height="10.9"/>
<rect x="643.1" y="449.9" width="10.9" height="10.9"/>
<rect x="566.2" y="408.7" width="10.9" height="10.9"/>
</g>
<path d="M591.3 433.4L609.3 433.4M593.9 427.0L606.7 439.8M600.3 424.4L600.3 442.4M606.7 427.0L593.9 439.8" stroke="#ff0000" stroke-width="3.6" fill="none"/><circle cx="600.3" cy="433.4" r="4.6" fill="#ff0000"/>
<circle cx="606.2" cy="424.3" r="9.3" stroke="#00e000" stroke-width="3.2" fill="none"/>
<g stroke="#000" fill="none">
<path d="M200.7 808.1v-10.2M200.7 8.4v11M333.9 808.1v-10.2M333.9 8.4v11M467.2 808.1v-10.2M467.2 8.4v11M600.5 808.1v-10.2M600.5 8.4v11M733.7 808.1v-10.2M733.7 8.4v11M867.0 808.1v-10.2M867.0 8.4v11M1000.2 808.1v-10.2M1000.2 8.4v11M1133.5 808.1v-10.2M1133.5 8.4v11M139.3 748.0h11M1151.5 748.0h-11M139.3 642.5h11M1151.5 642.5h-11M139.3 537.1h11M1151.5 537.1h-11M139.3 431.6h11M1151.5 431.6h-11M139.3 326.2h11M1151.5 326.2h-11M139.3 220.8h11M1151.5 220.8h-11M139.3 115.3h11M1151.5 115.3h-11" stroke-width="2.9"/>
<path d="M147.4 808.1v-4.3M147.4 8.4v5.3M174.0 808.1v-4.3M174.0 8.4v5.3M227.3 808.1v-4.3M227.3 8.4v5.3M254.0 808.1v-4.3M254.0 8.4v5.3M280.6 808.1v-4.3M280.6 8.4v5.3M307.3 808.1v-4.3M307.3 8.4v5.3M360.6 808.1v-4.3M360.6 8.4v5.3M387.2 808.1v-4.3M387.2 8.4v5.3M413.9 808.1v-4.3M413.9 8.4v5.3M440.5 808.1v-4.3M440.5 8.4v5.3M493.8 808.1v-4.3M493.8 8.4v5.3M520.5 808.1v-4.3M520.5 8.4v5.3M547.1 808.1v-4.3M547.1 8.4v5.3M573.8 808.1v-4.3M573.8 8.4v5.3M627.1 808.1v-4.3M627.1 8.4v5.3M653.8 808.1v-4.3M653.8 8.4v5.3M680.4 808.1v-4.3M680.4 8.4v5.3M707.0 808.1v-4.3M707.0 8.4v5.3M760.3 808.1v-4.3M760.3 8.4v5.3M787.0 808.1v-4.3M787.0 8.4v5.3M813.7 808.1v-4.3M813.7 8.4v5.3M840.3 808.1v-4.3M840.3 8.4v5.3M893.6 808.1v-4.3M893.6 8.4v5.3M920.2 808.1v-4.3M920.2 8.4v5.3M946.9 808.1v-4.3M946.9 8.4v5.3M973.5 808.1v-4.3M973.5 8.4v5.3M1026.8 808.1v-4.3M1026.8 8.4v5.3M1053.5 808.1v-4.3M1053.5 8.4v5.3M1080.2 808.1v-4.3M1080.2 8.4v5.3M1106.8 808.1v-4.3M1106.8 8.4v5.3M139.3 790.2h5.8M1151.5 790.2h-5.8M139.3 769.1h5.8M1151.5 769.1h-5.8M139.3 726.9h5.8M1151.5 726.9h-5.8M139.3 705.8h5.8M1151.5 705.8h-5.8M139.3 684.7h5.8M1151.5 684.7h-5.8M139.3 663.6h5.8M1151.5 663.6h-5.8M139.3 621.5h5.8M1151.5 621.5h-5.8M139.3 600.4h5.8M1151.5 600.4h-5.8M139.3 579.3h5.8M1151.5 579.3h-5.8M139.3 558.2h5.8M1151.5 558.2h-5.8M139.3 516.0h5.8M1151.5 516.0h-5.8M139.3 494.9h5.8M1151.5 494.9h-5.8M139.3 473.8h5.8M1151.5 473.8h-5.8M139.3 452.7h5.8M1151.5 452.7h-5.8M139.3 410.6h5.8M1151.5 410.6h-5.8M139.3 389.5h5.8M1151.5 389.5h-5.8M139.3 368.4h5.8M1151.5 368.4h-5.8M139.3 347.3h5.8M1151.5 347.3h-5.8M139.3 305.1h5.8M1151.5 305.1h-5.8M139.3 284.0h5.8M1151.5 284.0h-5.8M139.3 262.9h5.8M1151.5 262.9h-5.8M139.3 241.8h5.8M1151.5 241.8h-5.8M139.3 199.7h5.8M1151.5 199.7h-5.8M139.3 178.6h5.8M1151.5 178.6h-5.8M139.3 157.5h5.8M1151.5 157.5h-5.8M139.3 136.4h5.8M1151.5 136.4h-5.8M139.3 94.2h5.8M1151.5 94.2h-5.8M139.3 73.1h5.8M1151.5 73.1h-5.8M139.3 52.0h5.8M1151.5 52.0h-5.8M139.3 30.9h5.8M1151.5 30.9h-5.8" stroke-width="2.8"/>
</g>
<rect x="139.3" y="8.4" width="1012.2" height="799.7" fill="none" stroke="#000" stroke-width="3.3"/>
<rect x="399.3" y="7.2" width="751.1000000000001" height="113.1" fill="#fff" stroke="#000" stroke-width="3.1"/>
<path d="M1151.5 8.4V808.1" fill="none" stroke="#000" stroke-width="3.5"/>
<rect x="435.05" y="23.549999999999997" width="11.3" height="11.3" fill="none" stroke="#0000d8" stroke-width="2.7"/>
<path d="M431.5 65.2L449.5 65.2M434.1 58.8L446.9 71.6M440.5 56.2L440.5 74.2M446.9 58.8L434.1 71.6" stroke="#ff0000" stroke-width="3.6" fill="none"/><circle cx="440.5" cy="65.2" r="4.6" fill="#ff0000"/>
<circle cx="440.2" cy="100.6" r="9.3" stroke="#00e000" stroke-width="3.2" fill="none"/>
<g font-family="'Liberation Serif', serif" font-size="29.15px" fill="#000">
<text x="480.6" y="39.4">Original data</text>
<text x="480.6" y="75.4">Actual position of the label</text>
<text x="480.6" y="110.7">Positioning results optimized by the DCNPSO algorithm</text>
<text x="199.9" y="852" text-anchor="middle" font-size="31.5px" textLength="69.1" lengthAdjust="spacingAndGlyphs">14.97</text>
<text x="333.4" y="852" text-anchor="middle" font-size="31.5px" textLength="69.1" lengthAdjust="spacingAndGlyphs">14.98</text>
<text x="466.9" y="852" text-anchor="middle" font-size="31.5px" textLength="69.1" lengthAdjust="spacingAndGlyphs">14.99</text>
<text x="600.4" y="852" text-anchor="middle" font-size="31.5px" textLength="30.7" lengthAdjust="spacingAndGlyphs">15</text>
<text x="733.9" y="852" text-anchor="middle" font-size="31.5px" textLength="69.1" lengthAdjust="spacingAndGlyphs">15.01</text>
<text x="867.4" y="852" text-anchor="middle" font-size="31.5px" textLength="69.1" lengthAdjust="spacingAndGlyphs">15.02</text>
<text x="1000.9" y="852" text-anchor="middle" font-size="31.5px" textLength="69.1" lengthAdjust="spacingAndGlyphs">15.03</text>
<text x="1134.4" y="852" text-anchor="middle" font-size="31.5px" textLength="69.1" lengthAdjust="spacingAndGlyphs">15.04</text>
<text x="127.3" y="761.8" text-anchor="end" font-size="32.5px">29.97</text>
<text x="127.3" y="656.3" text-anchor="end" font-size="32.5px">29.98</text>
<text x="127.3" y="550.9" text-anchor="end" font-size="32.5px">29.99</text>
<text x="127.3" y="445.4" text-anchor="end" font-size="32.5px">30</text>
<text x="127.3" y="340.0" text-anchor="end" font-size="32.5px">30.01</text>
<text x="127.3" y="234.6" text-anchor="end" font-size="32.5px">30.02</text>
<text x="127.3" y="129.1" text-anchor="end" font-size="32.5px">30.03</text>
<text x="127.3" y="23.7" text-anchor="end" font-size="32.5px">30.04</text>
</g>
<g font-family="'Liberation Serif', serif" font-weight="bold" font-size="33.5px" fill="#000">
<text x="608.7" y="889.4" textLength="25.4" lengthAdjust="spacingAndGlyphs">X</text>
<text x="638" y="895.9" font-weight="normal" font-size="45.6px" textLength="14.3" lengthAdjust="spacingAndGlyphs">/</text>
<text x="657" y="889.4" textLength="28" lengthAdjust="spacingAndGlyphs">m</text>
<g transform="translate(36.3 447.3) rotate(-90)">
<text x="0" y="0" textLength="27.5" lengthAdjust="spacingAndGlyphs">Y</text>
<text x="29.8" y="6.5" font-weight="normal" font-size="45.6px" textLength="14.3" lengthAdjust="spacingAndGlyphs">/</text>
<text x="47.9" y="0" textLength="29.3" lengthAdjust="spacingAndGlyphs">m</text>
</g>
</g>
</svg>
</body></html>
